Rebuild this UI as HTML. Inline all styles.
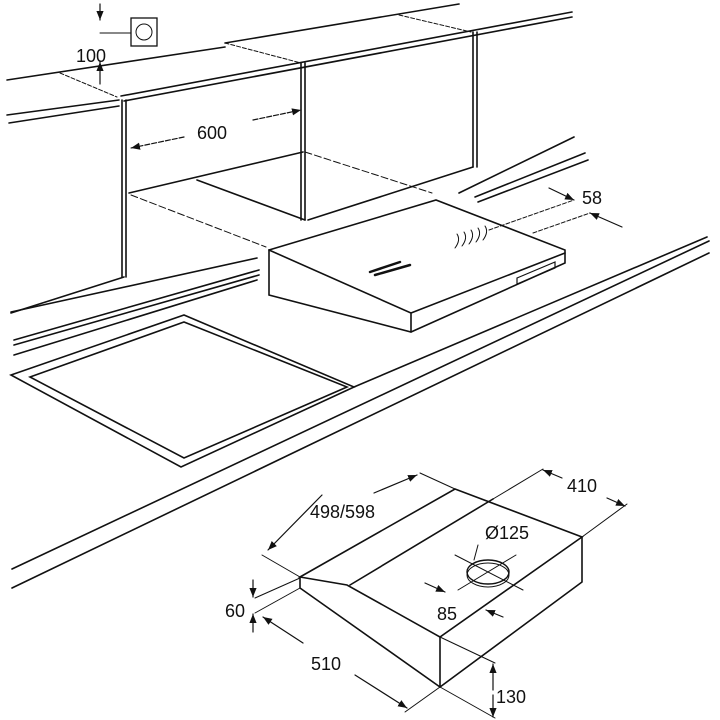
<!DOCTYPE html>
<html><head><meta charset="utf-8"><style>
html,body{margin:0;padding:0;background:#fff;}
svg{display:block;}
text{font-family:"Liberation Sans",sans-serif;fill:#111;}
</style></head><body>
<svg width="720" height="720" viewBox="0 0 720 720" xmlns="http://www.w3.org/2000/svg">
<defs>
<marker id="ar" viewBox="0 0 10 10" refX="10" refY="5" markerWidth="9" markerHeight="9" orient="auto-start-reverse" markerUnits="userSpaceOnUse"><path d="M0,1 L10,5 L0,9 z" fill="#111"/></marker>
</defs>
<g stroke="#111" stroke-width="1.6" fill="none" stroke-linecap="round">
<path d="M7,80 L225,47 M225,43 L459,4"/>
<path d="M7,115 L119,100 M9,123 L119,106"/>
<path d="M121,96 L572,12 M124,101 L572,17"/>
<path d="M60,73 L117,97 M225,43 L301,63 M399,15 L471,32" stroke-width="1" stroke-dasharray="4,2"/>
<path d="M122,100 L122,277 M126,100 L126,277"/>
<path d="M301,63 L301,220 M305,63 L305,220"/>
<path d="M473,32 L473,167 M477,32 L477,167"/>
<path d="M129,193 L303,152 M308,220 L473,167 M197,180 L305,220 M11,313 L124,277"/>
<path d="M305,152 L432,193 M131,195 L266,247" stroke-width="1" stroke-dasharray="7,3"/>
<path d="M459,193 L574,137 M475,197 L585,153 M478,202 L588,160"/>
<path d="M11,312 L257,258 M14,340 L259,270 M14,345 L259,275 M14,355 L257,280"/>
<path d="M11,375 L184,315 L354,387 L181,467 Z"/>
<path d="M30,377 L184,322 L347,387 L184,458 Z"/>
<path d="M354,387 L707,237 M12,569 L709,241 M12,588 L709,253"/>
<path d="M269,250 L436,200 L565,250 L565,263 L411,332 L269,295 Z"/>
<path d="M269,250 L411,313 L411,332 M411,313 L565,253"/>
<path d="M517,278 L555,262 L555,268 L517,284 Z" stroke-width="1.2"/>
<path d="M370,272 L400,262 M375,275 L410,265" stroke-width="2.5"/>
<path d="M455,248 q6,-8 2,-14 M462,246 q6,-8 2,-14 M469,244 q6,-8 2,-14 M476,242 q6,-8 2,-14 M483,240 q6,-8 2,-14" stroke-width="1"/>
<path d="M489,230 L574,200 M533,233 L590,213" stroke-width="1" stroke-dasharray="4,2"/>
<path d="M549,188 L574,200" marker-end="url(#ar)" stroke-width="1.2"/>
<path d="M622,227 L590,213" marker-end="url(#ar)" stroke-width="1.2"/>
<path d="M184,137 L131,148" marker-end="url(#ar)" stroke-width="1.2" stroke-dasharray="5,2"/>
<path d="M253,120 L301,110" marker-end="url(#ar)" stroke-width="1.2" stroke-dasharray="5,2"/>
<path d="M100,4 L100,20" marker-end="url(#ar)" stroke-width="1.2"/>
<path d="M100,84 L100,62" marker-end="url(#ar)" stroke-width="1.2"/>
<path d="M100,33 L131,33" stroke-width="1"/>
<rect x="131" y="18" width="26" height="28" stroke-width="1.3"/>
<circle cx="144" cy="32" r="8" stroke-width="1"/>
<path d="M300,577 L455,489 L582,537 L440,637 L347,585 L300,577 Z"/>
<path d="M300,577 L300,588 L440,687 L582,582 L582,537 M440,637 L440,687 M350,585 L493,499"/>
<ellipse cx="488" cy="572" rx="21" ry="12" stroke-width="1.4"/>
<ellipse cx="488" cy="575" rx="21" ry="12" stroke-width="1"/>
<path d="M455,555 L523,590 M516,555 L458,590 M474,560 L478,545" stroke-width="1"/>
<path d="M262,555 L300,577 M420,473 L455,489 M493,499 L543,469 M582,537 L627,504" stroke-width="1"/>
<path d="M322,495 L268,550" marker-end="url(#ar)" stroke-width="1.2"/>
<path d="M374,493 L417,475" marker-end="url(#ar)" stroke-width="1.2"/>
<path d="M562,478 L543,470" marker-end="url(#ar)" stroke-width="1.2"/>
<path d="M607,498 L625,506" marker-end="url(#ar)" stroke-width="1.2"/>
<path d="M425,583 L445,592" marker-end="url(#ar)" stroke-width="1.2"/>
<path d="M503,617 L486,610" marker-end="url(#ar)" stroke-width="1.2"/>
<path d="M255,598 L300,578 M255,613 L300,588" stroke-width="1"/>
<path d="M253,580 L253,597" marker-end="url(#ar)" stroke-width="1.2"/>
<path d="M253,632 L253,614" marker-end="url(#ar)" stroke-width="1.2"/>
<path d="M303,643 L263,617" marker-end="url(#ar)" stroke-width="1.2"/>
<path d="M355,675 L407,708" marker-end="url(#ar)" stroke-width="1.2"/>
<path d="M440,687 L405,712 M440,637 L495,663 M440,687 L495,718" stroke-width="1"/>
<path d="M493,690 L493,664" marker-end="url(#ar)" stroke-width="1.2"/>
<path d="M493,695 L493,717" marker-end="url(#ar)" stroke-width="1.2"/>
</g>
<g font-size="18">
<text x="76" y="62">100</text>
<text x="197" y="139">600</text>
<text x="582" y="204">58</text>
<text x="310" y="518">498/598</text>
<text x="567" y="492">410</text>
<text x="485" y="539">Ø125</text>
<text x="437" y="620">85</text>
<text x="225" y="617">60</text>
<text x="311" y="670">510</text>
<text x="496" y="703">130</text>
</g>
</svg>
</body></html>
